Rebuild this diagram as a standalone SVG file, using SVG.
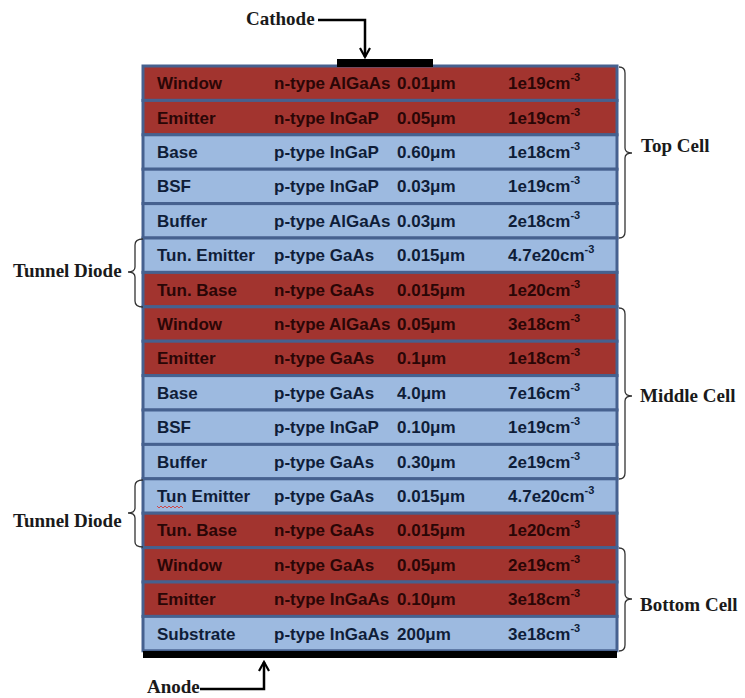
<svg xmlns="http://www.w3.org/2000/svg" width="745" height="698" viewBox="0 0 745 698">
<defs>
<style>
.red{fill:#a2342f;stroke:#46618f;stroke-width:3}
.blue{fill:#9dbae0;stroke:#46618f;stroke-width:3}
.t{font-family:"Liberation Sans",Arial,sans-serif;font-weight:bold;font-size:17px}
.tr{fill:#2a0606}
.tb{fill:#0f1d38}
.sup{font-size:11px}
.lbl{font-family:"Liberation Serif","Times New Roman",serif;font-weight:bold;font-size:19px;fill:#1a1a1a}
.br{fill:none;stroke:#333;stroke-width:1.3}
.ar{fill:none;stroke:#000;stroke-width:2.5}
</style>
<marker id="ah" viewBox="0 0 12 12" refX="10" refY="6" markerWidth="12" markerHeight="12" markerUnits="userSpaceOnUse" orient="auto">
<path d="M1,1 L10,6 L1,11" fill="none" stroke="#000" stroke-width="2.2"/>
</marker>
</defs>
<rect width="745" height="698" fill="#ffffff"/>

<g id="row0"><rect class="red" x="143" y="66" width="474" height="34.4"/><text class="t tr" y="89.2"><tspan x="157">Window</tspan><tspan x="274">n-type AlGaAs</tspan><tspan x="397">0.01μm</tspan><tspan x="508">1e19cm</tspan><tspan class="sup" dy="-8">-3</tspan></text></g>
<g id="row1"><rect class="red" x="143" y="100.4" width="474" height="34.4"/><text class="t tr" y="123.6"><tspan x="157">Emitter</tspan><tspan x="274">n-type InGaP</tspan><tspan x="397">0.05μm</tspan><tspan x="508">1e19cm</tspan><tspan class="sup" dy="-8">-3</tspan></text></g>
<g id="row2"><rect class="blue" x="143" y="134.8" width="474" height="34.4"/><text class="t tb" y="158"><tspan x="157">Base</tspan><tspan x="274">p-type InGaP</tspan><tspan x="397">0.60μm</tspan><tspan x="508">1e18cm</tspan><tspan class="sup" dy="-8">-3</tspan></text></g>
<g id="row3"><rect class="blue" x="143" y="169.2" width="474" height="34.4"/><text class="t tb" y="192.4"><tspan x="157">BSF</tspan><tspan x="274">p-type InGaP</tspan><tspan x="397">0.03μm</tspan><tspan x="508">1e19cm</tspan><tspan class="sup" dy="-8">-3</tspan></text></g>
<g id="row4"><rect class="blue" x="143" y="203.6" width="474" height="34.4"/><text class="t tb" y="226.8"><tspan x="157">Buffer</tspan><tspan x="274">p-type AlGaAs</tspan><tspan x="397">0.03μm</tspan><tspan x="508">2e18cm</tspan><tspan class="sup" dy="-8">-3</tspan></text></g>
<g id="row5"><rect class="blue" x="143" y="238" width="474" height="34.4"/><text class="t tb" y="261.2"><tspan x="157">Tun. Emitter</tspan><tspan x="274">p-type GaAs</tspan><tspan x="397">0.015μm</tspan><tspan x="508">4.7e20cm</tspan><tspan class="sup" dy="-8">-3</tspan></text></g>
<g id="row6"><rect class="red" x="143" y="272.4" width="474" height="34.4"/><text class="t tr" y="295.6"><tspan x="157">Tun. Base</tspan><tspan x="274">n-type GaAs</tspan><tspan x="397">0.015μm</tspan><tspan x="508">1e20cm</tspan><tspan class="sup" dy="-8">-3</tspan></text></g>
<g id="row7"><rect class="red" x="143" y="306.8" width="474" height="34.4"/><text class="t tr" y="330"><tspan x="157">Window</tspan><tspan x="274">n-type AlGaAs</tspan><tspan x="397">0.05μm</tspan><tspan x="508">3e18cm</tspan><tspan class="sup" dy="-8">-3</tspan></text></g>
<g id="row8"><rect class="red" x="143" y="341.2" width="474" height="34.4"/><text class="t tr" y="364.4"><tspan x="157">Emitter</tspan><tspan x="274">n-type GaAs</tspan><tspan x="397">0.1μm</tspan><tspan x="508">1e18cm</tspan><tspan class="sup" dy="-8">-3</tspan></text></g>
<g id="row9"><rect class="blue" x="143" y="375.6" width="474" height="34.4"/><text class="t tb" y="398.8"><tspan x="157">Base</tspan><tspan x="274">p-type GaAs</tspan><tspan x="397">4.0μm</tspan><tspan x="508">7e16cm</tspan><tspan class="sup" dy="-8">-3</tspan></text></g>
<g id="row10"><rect class="blue" x="143" y="410" width="474" height="34.4"/><text class="t tb" y="433.2"><tspan x="157">BSF</tspan><tspan x="274">p-type InGaP</tspan><tspan x="397">0.10μm</tspan><tspan x="508">1e19cm</tspan><tspan class="sup" dy="-8">-3</tspan></text></g>
<g id="row11"><rect class="blue" x="143" y="444.4" width="474" height="34.4"/><text class="t tb" y="467.6"><tspan x="157">Buffer</tspan><tspan x="274">p-type GaAs</tspan><tspan x="397">0.30μm</tspan><tspan x="508">2e19cm</tspan><tspan class="sup" dy="-8">-3</tspan></text></g>
<g id="row12"><rect class="blue" x="143" y="478.8" width="474" height="34.4"/><text class="t tb" y="502"><tspan x="157">Tun Emitter</tspan><tspan x="274">p-type GaAs</tspan><tspan x="397">0.015μm</tspan><tspan x="508">4.7e20cm</tspan><tspan class="sup" dy="-8">-3</tspan></text><path d="M157,506 l2,2 l2,-2 l2,2 l2,-2 l2,2 l2,-2 l2,2 l2,-2 l2,2 l2,-2 l2,2 l2,-2 l2,2" fill="none" stroke="#d23a3a" stroke-width="0.9"/></g>
<g id="row13"><rect class="red" x="143" y="513.2" width="474" height="34.4"/><text class="t tr" y="536.4"><tspan x="157">Tun. Base</tspan><tspan x="274">n-type GaAs</tspan><tspan x="397">0.015μm</tspan><tspan x="508">1e20cm</tspan><tspan class="sup" dy="-8">-3</tspan></text></g>
<g id="row14"><rect class="red" x="143" y="547.6" width="474" height="34.4"/><text class="t tr" y="570.8"><tspan x="157">Window</tspan><tspan x="274">n-type GaAs</tspan><tspan x="397">0.05μm</tspan><tspan x="508">2e19cm</tspan><tspan class="sup" dy="-8">-3</tspan></text></g>
<g id="row15"><rect class="red" x="143" y="582" width="474" height="34.4"/><text class="t tr" y="605.2"><tspan x="157">Emitter</tspan><tspan x="274">n-type InGaAs</tspan><tspan x="397">0.10μm</tspan><tspan x="508">3e18cm</tspan><tspan class="sup" dy="-8">-3</tspan></text></g>
<g id="row16"><rect class="blue" x="143" y="616.4" width="474" height="34.4"/><text class="t tb" y="639.6"><tspan x="157">Substrate</tspan><tspan x="274">p-type InGaAs</tspan><tspan x="397">200μm</tspan><tspan x="508">3e18cm</tspan><tspan class="sup" dy="-8">-3</tspan></text></g>

<g id="cathode"><rect x="337" y="59" width="96" height="8" fill="#000"/><text class="lbl" x="246" y="25">Cathode</text></g>
<g id="anode"><rect x="143" y="651" width="474" height="7" fill="#000"/><text class="lbl" x="147" y="693">Anode</text></g>

<g id="labels">
<text class="lbl" x="641" y="152">Top Cell</text>
<text class="lbl" x="640" y="402">Middle Cell</text>
<text class="lbl" x="640" y="611">Bottom Cell</text>
<text class="lbl" x="13" y="277">Tunnel Diode</text>
<text class="lbl" x="13" y="527">Tunnel Diode</text>
</g>

<g id="connectors">
<path class="ar" d="M318,20 H365 V57" marker-end="url(#ah)"/>
<path class="ar" d="M200,689 H264 V662" marker-end="url(#ah)"/>
<path class="br" d="M619,67 Q625,67 625,73 V148 Q625,153 632,153 Q625,153 625,158 V232 Q625,238 619,238"/>
<path class="br" d="M619,308 Q625,308 625,314 V391 Q625,396 632,396 Q625,396 625,401 V473 Q625,479 619,479"/>
<path class="br" d="M619,548 Q625,548 625,554 V594 Q625,599 632,599 Q625,599 625,604 V645 Q625,651 619,651"/>
<path class="br" d="M143,239 Q135,239 135,245 V267 Q135,272 128,272 Q135,272 135,277 V301 Q135,307 143,307"/>
<path class="br" d="M143,480 Q135,480 135,486 V508 Q135,513 128,513 Q135,513 135,518 V542 Q135,547 143,547"/>
</g>
</svg>
